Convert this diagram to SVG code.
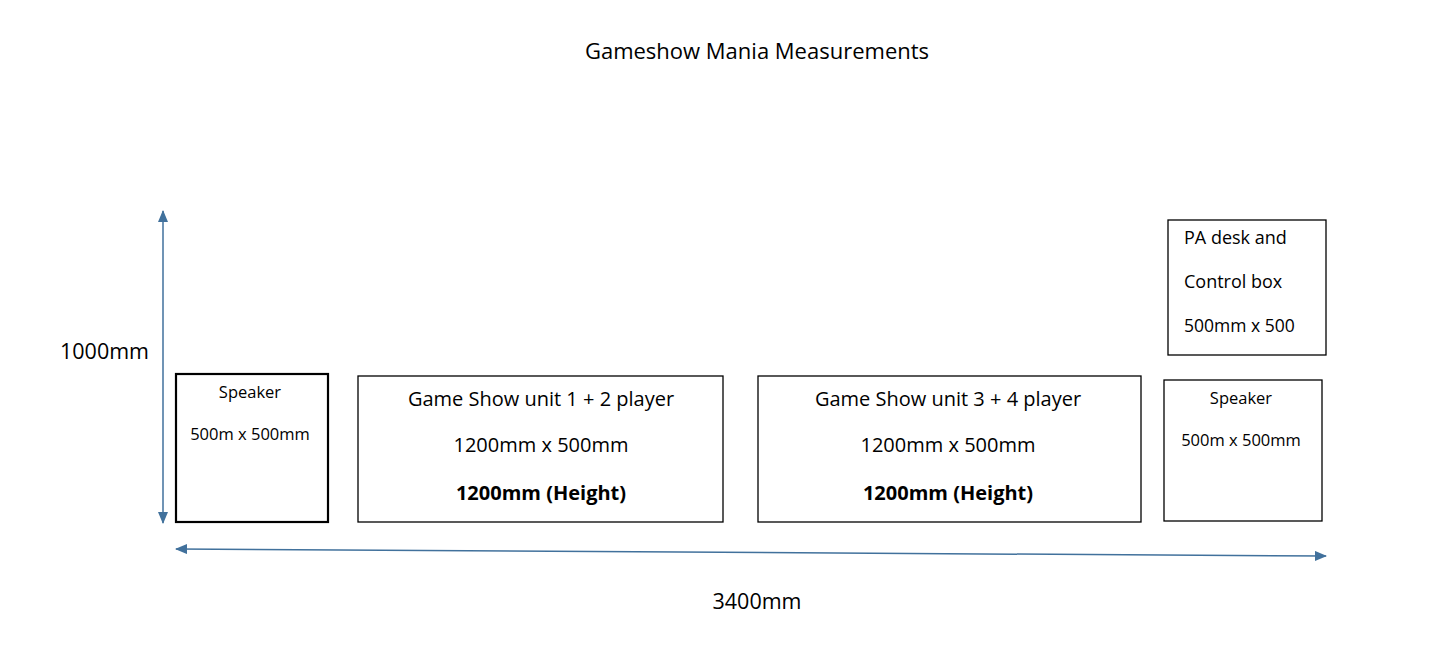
<svg xmlns="http://www.w3.org/2000/svg" width="1456" height="662" viewBox="0 0 1456 662">
<style>
text{font-family:"Open Sans","Liberation Sans",Arial,sans-serif;fill:#000}
.box{fill:#fff;stroke:#000;stroke-width:1.3}
.thick{stroke-width:2.2}
.dim{stroke:#41719C;stroke-width:1.5;fill:none}
.c{text-anchor:middle}
</style>
<defs>
<marker id="ah" viewBox="0 0 12 10" refX="11" refY="5" markerWidth="12" markerHeight="10" markerUnits="userSpaceOnUse" orient="auto-start-reverse">
<path d="M0,0 L12,5 L0,10 z" fill="#41719C"/>
</marker>
</defs>
<rect width="1456" height="662" fill="#fff"/>
<text class="c" x="757" y="59" font-size="22">Gameshow Mania Measurements</text>
<g id="connectors">
<line class="dim" x1="163" y1="211" x2="163" y2="523" marker-start="url(#ah)" marker-end="url(#ah)"/>
<line class="dim" x1="176" y1="549" x2="1326" y2="556" marker-start="url(#ah)" marker-end="url(#ah)"/>
</g>
<text x="60" y="359" font-size="21.5">1000mm</text>
<text class="c" x="757" y="609" font-size="21.5">3400mm</text>
<g id="speaker1">
<rect class="box thick" x="176" y="374" width="152" height="148"/>
<text class="c" x="250" y="398" font-size="16.5">Speaker</text>
<text class="c" x="250" y="440" font-size="16.5">500m x 500mm</text>
</g>
<g id="unit12">
<rect class="box" x="358" y="376" width="365" height="146"/>
<text class="c" x="541" y="406" font-size="20">Game Show unit 1 + 2 player</text>
<text class="c" x="541" y="452" font-size="20">1200mm x 500mm</text>
<text class="c" x="541" y="500" font-size="20" font-weight="bold">1200mm (Height)</text>
</g>
<g id="unit34">
<rect class="box" x="758" y="376" width="383" height="146"/>
<text class="c" x="948" y="406" font-size="20">Game Show unit 3 + 4 player</text>
<text class="c" x="948" y="452" font-size="20">1200mm x 500mm</text>
<text class="c" x="948" y="500" font-size="20" font-weight="bold">1200mm (Height)</text>
</g>
<g id="speaker2">
<rect class="box" x="1164" y="380" width="158" height="141"/>
<text class="c" x="1241" y="404" font-size="16.5">Speaker</text>
<text class="c" x="1241" y="446" font-size="16.5">500m x 500mm</text>
</g>
<g id="padesk">
<rect class="box" x="1168" y="220" width="158" height="135"/>
<text x="1184" y="244" font-size="18">PA desk and</text>
<text x="1184" y="288" font-size="18">Control box</text>
<text x="1184" y="332" font-size="17.5">500mm x 500</text>
</g>
</svg>
